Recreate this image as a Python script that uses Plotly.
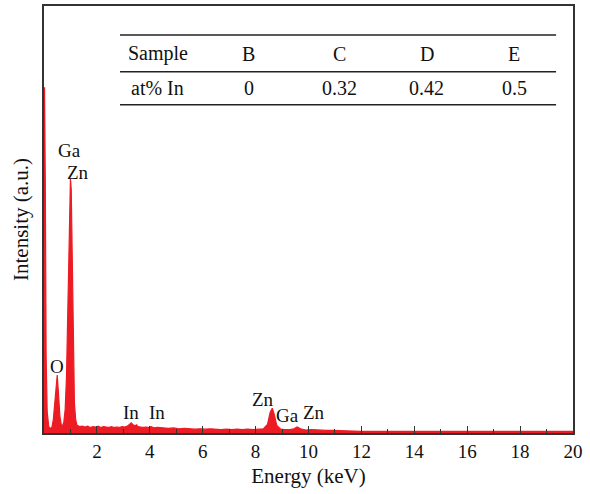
import plotly.graph_objects as go

# EDS spectrum (energy in keV, intensity in a.u.)
energy = [0.00, 0.02, 0.05, 0.08, 0.12, 0.18, 0.25, 0.30, 0.35, 0.40,
          0.45, 0.50, 0.55, 0.60, 0.65, 0.70, 0.75, 0.80, 0.85, 0.90,
          0.95, 1.00, 1.03, 1.06, 1.10, 1.15, 1.20, 1.25, 1.35, 1.45,
          1.55, 1.65, 1.75, 1.85, 1.95, 2.05, 2.15, 2.25, 2.35, 2.45,
          2.55, 2.65, 2.75, 2.85, 2.95, 3.05, 3.15, 3.25, 3.30, 3.35,
          3.45, 3.50, 3.55, 3.65, 3.75, 3.85, 3.95, 4.05, 4.15, 4.30,
          4.5, 4.7, 4.9, 5.1, 5.3, 5.5, 5.7, 5.9, 6.1, 6.3,
          6.5, 6.7, 6.9, 7.1, 7.3, 7.5, 7.7, 7.9, 8.1, 8.3,
          8.45, 8.55, 8.63, 8.70, 8.80, 8.95, 9.10, 9.30, 9.45, 9.57,
          9.70, 9.90, 10.1, 10.3, 10.5, 10.7, 10.9, 11.2, 11.6, 12.0,
          13, 14, 15, 16, 17, 18, 19, 20]
intensity = [0, 81, 58, 18, 5, 1.5, 1.0, 1.4, 3.0, 6.0,
             10.5, 13.6, 9.0, 4.0, 2.0, 1.6, 2.6, 5.5, 13, 30,
             49, 59.6, 57, 44, 22, 7, 3, 1.8, 1.5, 1.6,
             1.4, 1.6, 1.3, 1.5, 1.4, 1.6, 1.3, 1.5, 1.4, 1.3,
             1.5, 1.3, 1.4, 1.3, 1.5, 1.4, 1.6, 2.1, 2.4, 2.0,
             1.7, 1.9, 1.5, 1.4, 1.3, 1.4, 1.3, 1.5, 1.2, 1.3,
             1.2, 1.1, 1.2, 1.0, 1.1, 1.0, 0.9, 1.0, 0.9, 1.0,
             0.9, 0.8, 0.9, 0.8, 0.9, 0.8, 0.9, 0.8, 0.9, 1.0,
             2.0, 4.8, 5.8, 4.5, 1.8, 0.9, 0.8, 0.8, 1.0, 1.4,
             1.0, 0.7, 0.8, 0.7, 0.7, 0.6, 0.6, 0.5, 0.4, 0.4,
             0.4, 0.4, 0.4, 0.4, 0.4, 0.4, 0.4, 0.4]

# Peak labels
peak_labels = ["Ga", "Zn", "O", "In", "In", "Zn", "Ga", "Zn"]
peak_x = [0.98, 1.28, 0.49, 3.28, 4.29, 8.28, 9.19, 10.2]
peak_y = [66.1, 61.0, 15.6, 4.7, 4.7, 7.9, 4.2, 4.7]

# Inset table
table_header = ["Sample", "B", "C", "D", "E"]
table_row = ["at% In", "0", "0.32", "0.42", "0.5"]

tick_vals = [2, 4, 6, 8, 10, 12, 14, 16, 18, 20]

RED = "#ED1C24"
FONT = "Liberation Serif"

fig = go.Figure()
fig.add_trace(go.Scatter(
    x=energy, y=intensity, mode="lines",
    line=dict(color=RED, width=1.2), fill="tozeroy", fillcolor=RED,
    hoverinfo="skip", showlegend=False))

for t, x, y in zip(peak_labels, peak_x, peak_y):
    fig.add_annotation(x=x, y=y, text=t, showarrow=False,
                       xanchor="center", yanchor="middle",
                       font=dict(family=FONT, size=19, color="#111"))

col_x = [0.2155, 0.3875, 0.5595, 0.724, 0.889]
for cx, h, r in zip(col_x, table_header, table_row):
    fig.add_annotation(xref="paper", yref="paper", x=cx, y=0.888, text=h,
                       xanchor="center", yanchor="middle",
                       showarrow=False, font=dict(family=FONT, size=20, color="#111"))
    fig.add_annotation(xref="paper", yref="paper", x=cx, y=0.809, text=r,
                       xanchor="center", yanchor="middle",
                       showarrow=False, font=dict(family=FONT, size=20, color="#111"))
for ly in [0.932, 0.846, 0.769]:
    fig.add_shape(type="line", xref="paper", yref="paper", x0=0.1437, x1=0.968,
                  y0=ly, y1=ly, line=dict(color="#222", width=1.5))

fig.update_layout(
    width=590, height=494,
    margin=dict(l=44, r=17, t=4, b=61),
    paper_bgcolor="white", plot_bgcolor="white",
    font=dict(family=FONT, size=19, color="#111"),
    xaxis=dict(range=[0, 20], tickvals=tick_vals, ticks="inside", ticklen=7,
               tickwidth=1, tickcolor="#333",
               minor=dict(tickvals=[1, 3, 5, 7, 9, 11, 13, 15, 17, 19],
                          ticks="inside", ticklen=4, tickcolor="#333"),
               showline=True, linecolor="#333", linewidth=2, mirror=True,
               showgrid=False, zeroline=False,
               title=dict(text="Energy (keV)", font=dict(family=FONT, size=21), standoff=8),
               tickfont=dict(family=FONT, size=19)),
    yaxis=dict(range=[0, 100], showticklabels=False, ticks="",
               showline=True, linecolor="#333", linewidth=2, mirror=True,
               showgrid=False, zeroline=False,
               title=dict(text="Intensity (a.u.)", font=dict(family=FONT, size=21), standoff=8)),
)

fig.write_html("out.html", config={"displayModeBar": False},
               post_script="document.body.style.margin='0';")
